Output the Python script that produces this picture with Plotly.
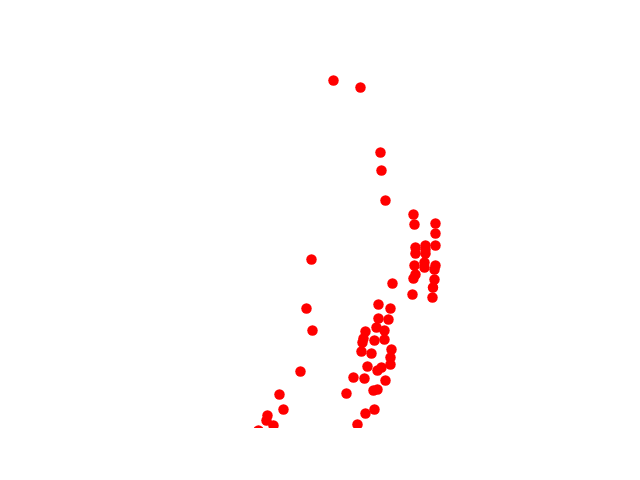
import plotly.graph_objects as go

x_values = [253.5, 280.5, 300.5, 301.5, 305.5,
            333.5, 334.5, 355.5, 355.5, 355.5, 335.5, 335.5, 345.5, 345.5, 345.5, 334.5, 344.5, 344.5, 355.5, 354.5, 335.5, 333.5, 354.5, 353, 332.5, 352.5,
            231.5, 226.5, 232.5, 220.5, 199.5, 203.5, 187.5, 186.5, 193.5, 178.5,
            312.5, 298.5, 310.5, 298.5, 308.5, 296.5, 304.5, 285.5, 283.5, 282.5, 294.5, 304.5, 281.5, 291.5, 311.5, 310.5, 310.5,
            287.5, 301.5, 297.5, 273.5, 284.5, 305.5, 266.5, 293.5, 297.5, 294.5, 285.5, 277.5]
y_values = [347.5, 340.5, 275.5, 257.5, 227.5,
            213.5, 203.5, 204.5, 194.5, 182.5, 180.5, 174.5, 182.5, 178.5, 174.5, 162.5, 165.5, 160.5, 162.5, 158.5, 153.5, 149.5, 148.5, 140.5, 133.5, 130.5,
            168.5, 119.5, 97.5, 56.5, 33.5, 18.5, 12.5, 7.5, 2.5, -2.5,
            144.5, 123.5, 119.5, 109.5, 108.5, 100.5, 97.5, 96.5, 89.5, 85.5, 87.5, 88.5, 76.5, 74.5, 78.5, 70.5, 63.5,
            61.5, 60.5, 57.5, 50.5, 49.5, 47.5, 34.5, 37.5, 38.5, 18.5, 14.5, 3.5]

fig = go.Figure(
    go.Scatter(
        x=x_values,
        y=y_values,
        mode="markers",
        marker=dict(color="#ff0000", size=10.5, line=dict(width=0)),
        showlegend=False,
    )
)
fig.update_layout(
    width=624,
    height=464,
    margin=dict(l=72, r=56, t=50, b=44),
    paper_bgcolor="white",
    plot_bgcolor="white",
    xaxis=dict(range=[0, 496], visible=False),
    yaxis=dict(range=[0, 370], visible=False),
)
fig.write_html("out.html", config={"displayModeBar": False})
